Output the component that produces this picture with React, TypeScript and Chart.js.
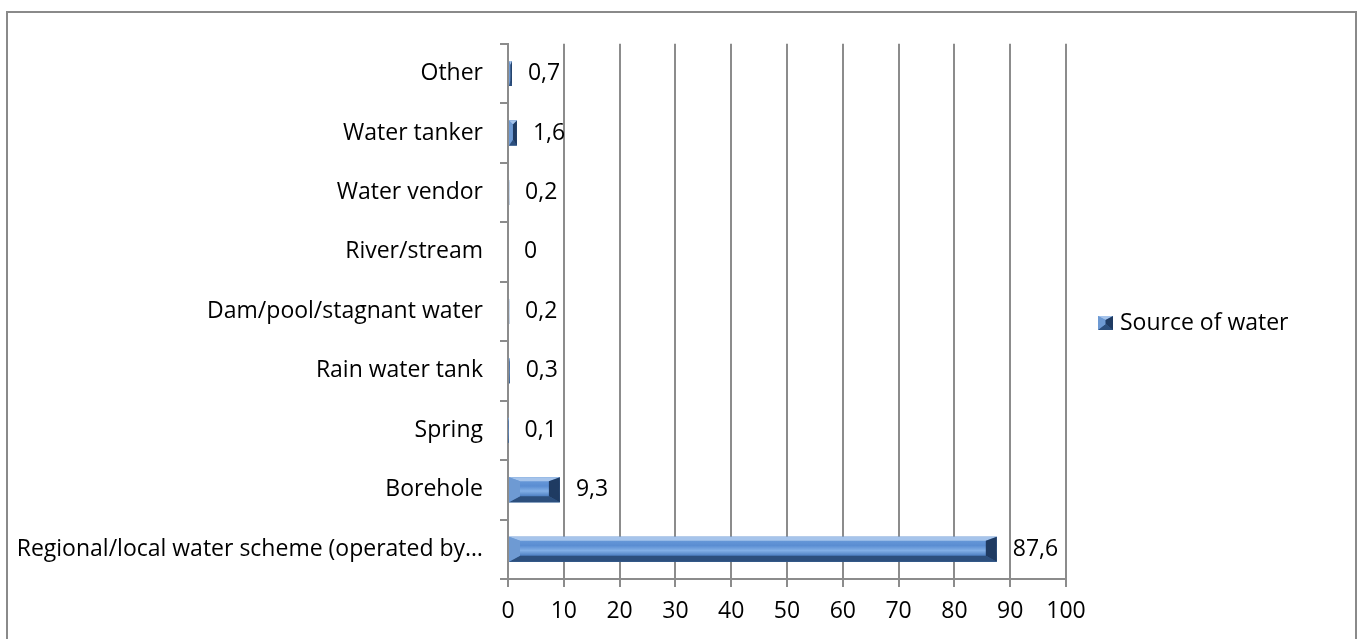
import React, { useEffect, useRef } from 'react';
import { Chart, registerables } from 'chart.js';

Chart.register(...registerables);

// ---- data (top to bottom as displayed) ----
const categories: string[] = [
  'Other',
  'Water tanker',
  'Water vendor',
  'River/stream',
  'Dam/pool/stagnant water',
  'Rain water tank',
  'Spring',
  'Borehole',
  'Regional/local water scheme (operated by…',
];
const values: number[] = [0.7, 1.6, 0.2, 0, 0.2, 0.3, 0.1, 9.3, 87.6];
const seriesName = 'Source of water';
const xTickValues: number[] = [0, 10, 20, 30, 40, 50, 60, 70, 80, 90, 100];

const FONT_FAMILY = "'Open Sans', sans-serif";
const FONT_SIZE = 23;
const GRID = '#8c8c8c';

const fmt = (v: number) => String(v).replace('.', ',');

function paintBevel(ctx: CanvasRenderingContext2D, left: number, top: number, right: number, bottom: number) {
  const w = right - left;
  const h = bottom - top;
  if (w <= 0 || h <= 0) return;
  const bx = Math.min(11, w / 2);
  const tY = Math.min(4, h / 2);
  const bY = Math.min(6, h / 2);
  const g = ctx.createLinearGradient(0, top, 0, bottom);
  g.addColorStop(0, '#6f9fdc');
  g.addColorStop(0.35, '#5a8dd2');
  g.addColorStop(0.55, '#82afe6');
  g.addColorStop(0.75, '#4f81c3');
  g.addColorStop(1, '#3a659c');
  ctx.save();
  ctx.fillStyle = g;
  ctx.fillRect(left, top, w, h);
  const poly = (pts: number[][], color: string) => {
    ctx.beginPath();
    ctx.moveTo(pts[0][0], pts[0][1]);
    for (let i = 1; i < pts.length; i++) ctx.lineTo(pts[i][0], pts[i][1]);
    ctx.closePath();
    ctx.fillStyle = color;
    ctx.fill();
  };
  poly([[left, top], [right, top], [right - bx, top + tY], [left + bx, top + tY]], '#a6c4eb');
  poly([[left, bottom], [right, bottom], [right - bx, bottom - bY], [left + bx, bottom - bY]], '#2c4f7d');
  poly([[left, top], [left + bx, top + tY], [left + bx, bottom - bY], [left, bottom]], '#6e9ad3');
  poly([[right, top], [right - bx, top + tY], [right - bx, bottom - bY], [right, bottom]], '#1f3b62');
  ctx.restore();
}

const bevelPlugin = {
  id: 'bevelBars',
  afterDatasetsDraw(chart: any) {
    const ctx = chart.ctx as CanvasRenderingContext2D;
    const meta = chart.getDatasetMeta(0);
    meta.data.forEach((el: any) => {
      const p = el.getProps(['x', 'y', 'base', 'height'], true);
      const left = Math.min(p.x, p.base);
      const right = Math.max(p.x, p.base);
      paintBevel(ctx, left, p.y - p.height / 2, right, p.y + p.height / 2);
    });
  },
};

const dataLabelPlugin = {
  id: 'dataLabels',
  afterDatasetsDraw(chart: any) {
    const ctx = chart.ctx as CanvasRenderingContext2D;
    const meta = chart.getDatasetMeta(0);
    ctx.save();
    ctx.font = `${FONT_SIZE}px ${FONT_FAMILY}`;
    ctx.fillStyle = '#000';
    ctx.textAlign = 'left';
    ctx.textBaseline = 'middle';
    meta.data.forEach((el: any, i: number) => {
      const p = el.getProps(['x', 'y'], true);
      ctx.fillText(fmt(values[i]), p.x + 16, p.y);
    });
    ctx.restore();
  },
};

const legendPlugin = {
  id: 'sideLegend',
  afterDraw(chart: any) {
    const ctx = chart.ctx as CanvasRenderingContext2D;
    const area = chart.chartArea;
    const x = area.right + 32;
    const cy = chart.height / 2 - 3;
    paintBevel(ctx, x, cy - 7, x + 15, cy + 7);
    ctx.save();
    ctx.font = `${FONT_SIZE}px ${FONT_FAMILY}`;
    ctx.fillStyle = '#000';
    ctx.textAlign = 'left';
    ctx.textBaseline = 'middle';
    ctx.fillText(seriesName, x + 22, cy);
    ctx.restore();
  },
};

export default function App() {
  const ref = useRef<HTMLCanvasElement | null>(null);

  useEffect(() => {
    if (!ref.current) return;
    const chart = new Chart(ref.current, {
      type: 'bar',
      data: {
        labels: categories,
        datasets: [
          {
            label: seriesName,
            data: values,
            backgroundColor: '#4f81bd',
            borderWidth: 0,
            barPercentage: 0.42,
            categoryPercentage: 1,
          },
        ],
      },
      options: {
        indexAxis: 'y',
        animation: false,
        responsive: true,
        maintainAspectRatio: false,
        devicePixelRatio: 1,
        layout: { padding: { left: 0, right: 287, top: 28, bottom: 0 } },
        plugins: {
          legend: { display: false },
          tooltip: { enabled: false },
        },
        scales: {
          x: {
            min: xTickValues[0],
            max: xTickValues[xTickValues.length - 1],
            afterFit(scale: any) {
              scale.height = 60;
            },
            ticks: {
              stepSize: xTickValues[1] - xTickValues[0],
              color: '#000',
              padding: 11,
              font: { family: FONT_FAMILY, size: FONT_SIZE },
            },
            grid: {
              color: GRID,
              lineWidth: 2,
              tickLength: 8,
              drawTicks: true,
            },
            border: { display: true, color: GRID, width: 2 },
          },
          y: {
            afterFit(scale: any) {
              scale.width = 500;
            },
            ticks: {
              color: '#000',
              padding: 17,
              font: { family: FONT_FAMILY, size: FONT_SIZE },
              autoSkip: false,
            },
            grid: {
              offset: true,
              drawOnChartArea: false,
              drawTicks: true,
              tickLength: 8,
              color: GRID,
              lineWidth: 2,
            },
            border: { display: true, color: GRID, width: 2 },
          },
        },
      },
      plugins: [bevelPlugin, dataLabelPlugin, legendPlugin],
    });
    return () => chart.destroy();
  }, []);

  return (
    <>
      <div
        style={{
          position: 'absolute',
          left: 6,
          top: 11,
          width: 1351,
          height: 628,
          boxSizing: 'border-box',
          borderTop: '2px solid #8a8a8a',
          borderLeft: '2px solid #8a8a8a',
          borderRight: '2px solid #8a8a8a',
          background: '#fff',
        }}
      />
      <div style={{ position: 'absolute', left: 8, top: 13, width: 1345, height: 626 }}>
        <canvas ref={ref} />
      </div>
    </>
  );
}
